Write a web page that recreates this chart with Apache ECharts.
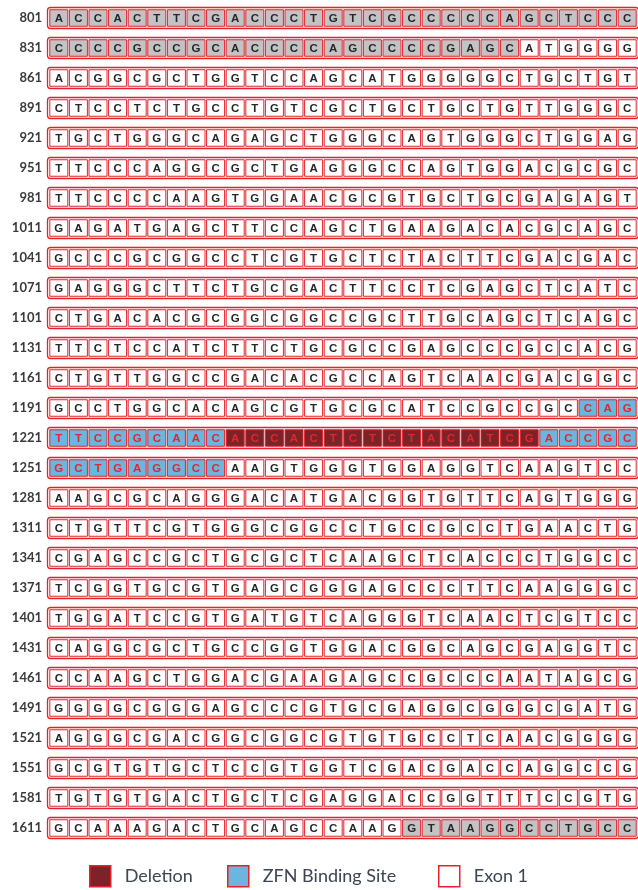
<!DOCTYPE html>
<html>
<head>
<meta charset="utf-8">
<script src="https://cdn.jsdelivr.net/npm/echarts@6/dist/echarts.min.js"></script>
<style>
  html, body { margin: 0; padding: 0; background: #fff; }
  #chart { width: 638px; height: 890px; }
</style>
</head>
<body>
<div id="chart"></div>
<script>
// start position of each row
var rowStarts = [801, 831, 861, 891, 921, 951, 981, 1011, 1041, 1071, 1101, 1131, 1161, 1191,
                 1221, 1251, 1281, 1311, 1341, 1371, 1401, 1431, 1461, 1491, 1521, 1551, 1581, 1611];
// 30 bases per row
var rowSeqs = [
  'ACCACTTCGACCCTGTCGCCCCCAGCTCCC',
  'CCCCGCCGCACCCCAGCCCCGAGCATGGGG',
  'ACGGCGCTGGTCCAGCATGGGGGCTGCTGT',
  'CTCCTCTGCCTGTCGCTGCTGCTGTTGGGC',
  'TGCTGGGCAGAGCTGGGCAGTGGGCTGGAG',
  'TTCCCAGGCGCTGAGGGCCAGTGGACGCGC',
  'TTCCCCAAGTGGAACGCGTGCTGCGAGAGT',
  'GAGATGAGCTTCCAGCTGAAGACACGCAGC',
  'GCCCGCGGCCTCGTGCTCTACTTCGACGAC',
  'GAGGGCTTCTGCGACTTCCTCGAGCTCATC',
  'CTGACACGCGGCGGCCGCTTGCAGCTCAGC',
  'TTCTCCATCTTCTGCGCCGAGCCCGCCACG',
  'CTGTTGGCCGACACGCCAGTCAACGACGGC',
  'GCCTGGCACAGCGTGCGCATCCGCCGCCAG',
  'TTCCGCAACACCACTCTCTACATCGACCGC',
  'GCTGAGGCCAAGTGGGTGGAGGTCAAGTCC',
  'AAGCGCAGGGACATGACGGTGTTCAGTGGG',
  'CTGTTCGTGGGCGGCCTGCCGCCTGAACTG',
  'CGAGCCGCTGCGCTCAAGCTCACCCTGGCC',
  'TCGGTGCGTGAGCGGGAGCCCTTCAAGGGC',
  'TGGATCCGTGATGTCAGGGTCAACTCGTCC',
  'CAGGCGCTGCCGGTGGACGGCAGCGAGGTC',
  'CCAAGCTGGACGAAGAGCCGCCCAATAGCG',
  'GGGGCGGGAGCCCGTGCGAGGCGGGCGATG',
  'AGGGCGACGGCGGCGTGTGCCTCAACGGGG',
  'GCGTGTGCTCCGTGGTCGACGACCAGGCCG',
  'TGTGTGACTGCTCGAGGACCGGTTTCCGTG',
  'GCAAAGACTGCAGCCAAGGTAAGGCCTGCC'
];
// regions (inclusive positions)
var flankRanges = [[801, 854], [1629, 1640]];
var zfnRanges = [[1218, 1229], [1246, 1259]];
var deletionRanges = [[1230, 1245]];
var legendNames = ['Deletion', 'ZFN Binding Site', 'Exon 1'];

var RED = '#e5222a';
var colors = {
  exon: '#ffffff',
  flank: '#c3c3c5',
  zfn: '#6bb5de',
  del: '#7c2228'
};

function inRanges(pos, ranges) {
  for (var i = 0; i < ranges.length; i++) {
    if (pos >= ranges[i][0] && pos <= ranges[i][1]) return true;
  }
  return false;
}

var cols = [];
for (var c = 0; c < 30; c++) cols.push(c);

var cellData = [];
for (var r = 0; r < rowStarts.length; r++) {
  for (var c = 0; c < rowSeqs[r].length; c++) {
    var pos = rowStarts[r] + c;
    var type = 'exon';
    if (inRanges(pos, deletionRanges)) type = 'del';
    else if (inRanges(pos, zfnRanges)) type = 'zfn';
    else if (inRanges(pos, flankRanges)) type = 'flank';
    cellData.push([c, r, rowSeqs[r].charAt(c), type]);
  }
}
var rowData = rowStarts.map(function (s, i) { return [0, i]; });

var chart = echarts.init(document.getElementById('chart'));

function renderRow(params, api) {
  var r = api.value(1);
  var p0 = api.coord([0, r]);
  var p1 = api.coord([29, r]);
  var bw = api.size([1, 1])[0];
  var h = 21;
  return {
    type: 'rect',
    shape: { x: p0[0] - bw / 2 - 1.5, y: p0[1] - h / 2, width: p1[0] - p0[0] + bw + 3, height: h, r: 3 },
    style: { fill: '#fff', stroke: RED, lineWidth: 1.3 }
  };
}

function renderCell(params, api) {
  var c = api.value(0), r = api.value(1);
  var d = cellData[params.dataIndex];
  var p = api.coord([c, r]);
  var bw = api.size([1, 1])[0];
  var w = bw - 1.6, h = 16.5;
  var fill = colors[d[3]];
  var txt = (d[3] === 'del' || d[3] === 'zfn') ? '#e3262c' : '#262626';
  return {
    type: 'group',
    children: [
      {
        type: 'rect',
        shape: { x: p[0] - w / 2, y: p[1] - h / 2, width: w, height: h },
        style: { fill: fill, stroke: RED, lineWidth: 1 }
      },
      {
        type: 'text',
        style: {
          text: d[2], x: p[0], y: p[1] + 0.5, align: 'center', verticalAlign: 'middle',
          font: 'bold 11.5px "Liberation Sans"', fill: txt
        }
      }
    ]
  };
}

function legendAt(left, name, fill) {
  return {
    left: left, top: 860, orient: 'horizontal',
    data: [{ name: name, icon: 'rect', itemStyle: { color: fill, opacity: 1, borderColor: RED, borderWidth: 1.5 } }],
    itemWidth: 21, itemHeight: 21, selectedMode: false,
    textStyle: { fontSize: 18, color: '#3b4553', fontFamily: 'Lato', padding: [0, 0, 0, 9] }
  };
}

var option = {
  animation: false,
  grid: { left: 49, right: 1, top: 3, height: 840 },
  xAxis: { type: 'category', data: cols, show: false },
  yAxis: {
    type: 'category', data: rowStarts.map(String), inverse: true,
    axisLine: { show: false }, axisTick: { show: false }, splitLine: { show: false },
    axisLabel: { fontSize: 13, fontWeight: 'bold', color: '#3a3a3a', fontFamily: 'Lato', margin: 7 }
  },
  legend: [
    legendAt(84, legendNames[0], colors.del),
    legendAt(222, legendNames[1], colors.zfn),
    legendAt(433, legendNames[2], colors.exon)
  ],
  series: [
    { type: 'custom', renderItem: renderRow, data: rowData, silent: true, clip: false },
    { type: 'custom', renderItem: renderCell, data: cellData.map(function (d) { return [d[0], d[1]]; }), silent: true, clip: false },
    { type: 'bar', name: legendNames[0], data: [] },
    { type: 'bar', name: legendNames[1], data: [] },
    { type: 'bar', name: legendNames[2], data: [] }
  ]
};
chart.setOption(option);
</script>
</body>
</html>
